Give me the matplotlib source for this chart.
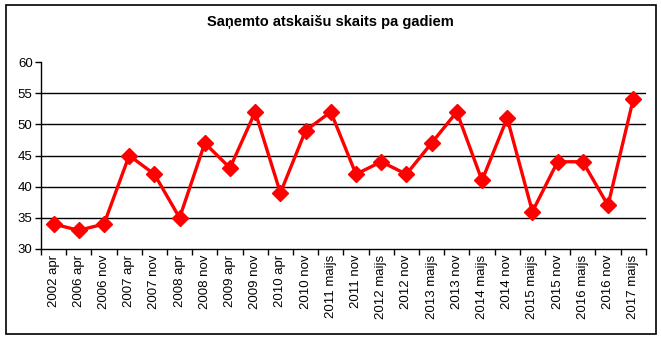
import matplotlib
matplotlib.use("Agg")
import matplotlib.pyplot as plt
from matplotlib.patches import Rectangle

# atskaišu skaits katrā iesniegšanas periodā
periodi = ["2002 apr", "2006 apr", "2006 nov", "2007 apr", "2007 nov", "2008 apr",
           "2008 nov", "2009 apr", "2009 nov", "2010 apr", "2010 nov", "2011 maijs",
           "2011 nov", "2012 maijs", "2012 nov", "2013 maijs", "2013 nov", "2014 maijs",
           "2014 nov", "2015 maijs", "2015 nov", "2016 maijs", "2016 nov", "2017 maijs"]
skaits = [34, 33, 34, 45, 42, 35, 47, 43, 52, 39, 49, 52,
          42, 44, 42, 47, 52, 41, 51, 36, 44, 44, 37, 54]
y_ticks = [30, 35, 40, 45, 50, 55, 60]

plt.rcParams['font.family'] = ['Liberation Sans', 'DejaVu Sans']

fig = plt.figure(figsize=(6.61, 3.39), dpi=100)
ax = fig.add_axes([0.062, 0.2655, 0.915, 0.5515])

x = list(range(len(periodi)))
ax.plot(x, skaits, color='#ff0000', lw=2.4, marker='D', ms=8.5,
        mec='#ff0000', mfc='#ff0000', zorder=3)

ax.set_ylim(30, 60)
ax.set_yticks(y_ticks)
ax.set_xlim(-0.5, len(periodi) - 0.5)
ax.set_xticks(x)
ax.set_xticklabels(periodi, rotation=90, fontsize=9.5)
ax.tick_params(axis='x', which='major', length=0, pad=4)
ax.set_xticks([i - 0.5 for i in range(len(periodi) + 1)], minor=True)
ax.tick_params(axis='x', which='minor', length=4, width=1, color='black')
ax.tick_params(axis='y', length=4, width=1, labelsize=9.5, pad=2)

for v in y_ticks[1:-1]:
    ax.axhline(v, color='black', lw=1, zorder=1)

for s in ['top', 'right']:
    ax.spines[s].set_visible(False)
for s in ['left', 'bottom']:
    ax.spines[s].set_linewidth(1)

fig.text(0.5, 0.935, "Saņemto atskaišu skaits pa gadiem", ha='center', va='center',
         fontsize=10.5, fontweight='bold')

# rāmis ap visu attēlu
fig.patches.append(Rectangle((6 / 661, 5 / 339), 650 / 661, 329 / 339,
                             transform=fig.transFigure, fill=False,
                             edgecolor='black', lw=1.2))

fig.savefig("out.png", dpi=100)
